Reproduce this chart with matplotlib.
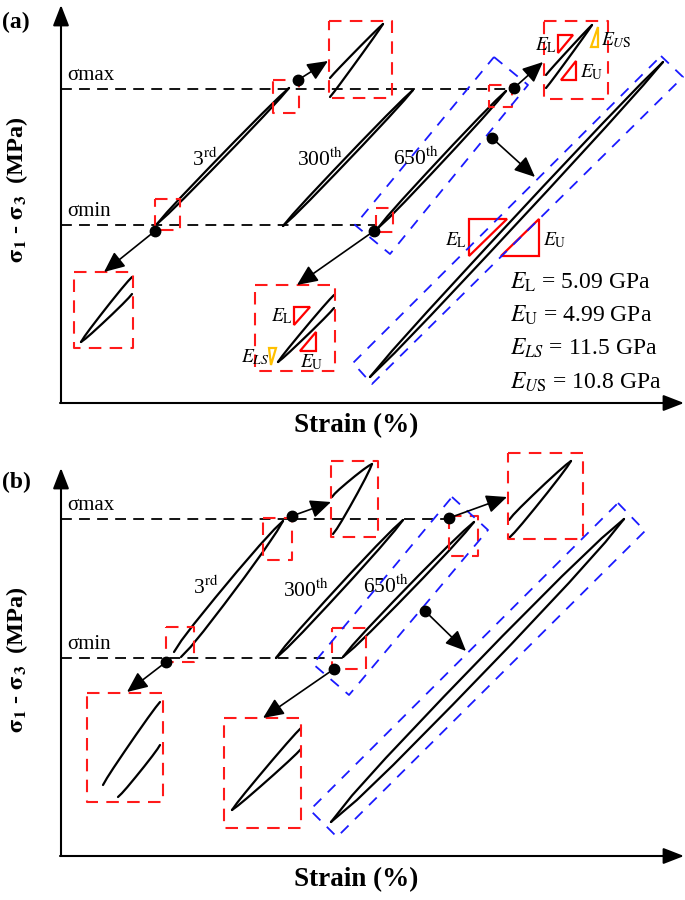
import matplotlib
matplotlib.use("Agg")
import matplotlib.pyplot as plt
import numpy as np
from matplotlib.patches import Polygon

plt.rcParams['font.family'] = ['Liberation Serif', 'DejaVu Serif']
plt.rcParams['mathtext.fontset'] = 'stix'

# everything is given in picture pixels (x right, y down)
# loops: upper branch start, lower branch start, upper end, lower end, bow
loops_a = [
    (157, 224, 157, 224, 289, 88, 289, 88, 1.8),     # 3rd
    (283, 226, 283, 226, 413, 90, 413, 90, 1.8),     # 300th
    (378, 228, 378, 228, 506, 91, 506, 91, 2.0),     # 650th
    (370, 377, 370, 377, 663, 62, 663, 62, 3.0),     # 650th enlarged
    (330, 78, 330, 97, 383, 24, 383, 24, 0.6),
    (546, 75, 546, 88, 592, 25, 592, 25, 0.5),
    (81, 342, 81, 342, 132, 277, 132, 294, 1.2),
    (278, 362, 278, 362, 334, 295, 334, 308, 1.0),
]
loops_b = [
    (174, 652, 181, 657, 283, 521, 283, 521, 3.0),
    (276, 658, 276, 658, 403, 520, 403, 520, 2.5),
    (343, 657, 343, 657, 474, 522, 474, 522, 2.5),
    (331, 822, 331, 822, 624, 519, 624, 519, 6.0),
    (332, 497, 333, 534, 372, 464, 372, 464, 1.5),
    (509, 520, 509, 538, 571, 461, 571, 461, 1.5),
    (103, 785, 118, 797, 160, 702, 160, 745, 1.2),
    (232, 810, 232, 810, 301, 728, 301, 749, 1.2),
]
# generic bow profile along a branch
branch_t = [0, 0.08, 0.2, 0.4, 0.6, 0.8, 0.93, 1.0]
branch_bow = [0, 0.55, 0.85, 1.0, 1.0, 0.8, 0.45, 0]

red_boxes = [
    (273, 80, 299, 113), (329, 21, 392, 98), (155, 199, 180, 230), (74, 272, 133, 348),
    (489, 85, 512, 107), (376, 208, 393, 232), (544, 21, 608, 99), (255, 285, 335, 371),
    (263, 518, 292, 560), (331, 461, 378, 537), (166, 627, 194, 662), (87, 693, 163, 802),
    (449, 516, 478, 556), (332, 628, 366, 669), (508, 453, 583, 539), (224, 718, 301, 828),
]
blue_rects = [
    [(494, 57), (528, 85), (390, 254), (355, 225)],
    [(661, 56), (683, 77), (372, 384), (353, 363)],
    [(452, 497), (488, 530), (349, 695), (313, 664)],
    [(618, 503), (645, 531), (337, 837), (310, 810)],
]
# dot position -> arrow tip
pointers = [
    (298, 80, 328, 61), (155, 231, 104, 272), (374, 231, 297, 285),
    (514, 88, 543, 62), (492, 138, 535, 177),
    (292, 516, 331, 502), (166, 662, 127, 692), (334, 669, 263, 718),
    (449, 518, 507, 497), (425, 611, 466, 651),
]
# sigma lines: y, x end, label
stress_lines = [(89, 515, 'σmax'), (225, 376, 'σmin'), (519, 450, 'σmax'), (658, 343, 'σmin')]

red_tri = [
    [(558, 35), (573, 35), (558, 53)], [(561, 80), (576, 80), (576, 61)],
    [(294, 307), (310, 307), (294, 325)], [(300, 351), (316, 351), (316, 332)],
    [(469, 219), (507, 219), (469, 256)], [(501, 256), (539, 256), (539, 219)],
]
orange_tri = [[(591, 47), (598, 47), (598, 27)], [(269, 348), (276, 348), (271, 365)]]

cycle_labels = [(192, 166, r'3$^{\rm rd}$'), (297, 166, r'300$^{\rm th}$'), (393, 165, r'650$^{\rm th}$'),
                (193, 594, r'3$^{\rm rd}$'), (283, 597, r'300$^{\rm th}$'), (363, 593, r'650$^{\rm th}$')]
mod_labels = [
    (557, 45, 'right', r'$E_{\rm L}$'), (601, 40, 'left', r'$E_{U\rm S}$'), (580, 72, 'left', r'$E_{\rm U}$'),
    (293, 316, 'right', r'$E_{\rm L}$'), (269, 357, 'right', r'$E_{LS}$'), (300, 362, 'left', r'$E_{\rm U}$'),
    (467, 240, 'right', r'$E_{\rm L}$'), (543, 240, 'left', r'$E_{\rm U}$'),
]
moduli = [r'$E_{\rm L}$ = 5.09 GPa', r'$E_{\rm U}$ = 4.99 GPa', r'$E_{LS}$ = 11.5 GPa', r'$E_{U\rm S}$ = 10.8 GPa']
moduli_y = [282, 315, 348, 382]

panels = [('(a)', 22, 403, 5, 190, 426), ('(b)', 482, 856, 468, 660, 880)]

fig = plt.figure(figsize=(6.85, 9), dpi=100)
ax = fig.add_axes([0, 0, 1, 1])
ax.set_xlim(0, 685)
ax.set_ylim(900, 0)
ax.axis('off')


def branch(x0, y0, x1, y1, w, sign):
    t = np.array(branch_t)
    b = np.array(branch_bow)
    dx, dy = x1 - x0, y1 - y0
    L = np.hypot(dx, dy)
    nx, ny = dy / L, -dx / L
    return x0 + t * dx + sign * nx * w * b, y0 + t * dy + sign * ny * w * b


for lp in loops_a + loops_b:
    xu, yu = branch(lp[0], lp[1], lp[4], lp[5], lp[8], 1)
    xl, yl = branch(lp[2], lp[3], lp[6], lp[7], lp[8], -1)
    ax.plot(xu, yu, color='k', lw=1.6, solid_capstyle='round')
    ax.plot(xl, yl, color='k', lw=1.6, solid_capstyle='round')

for label, ly, y_axis, y_top, ylab_y, xlab_y in panels:
    ax.annotate('', xy=(61, y_top), xytext=(61, y_axis),
                arrowprops=dict(arrowstyle='-|>,head_length=0.9,head_width=0.35', color='k', lw=1.5,
                                shrinkA=0, shrinkB=0, mutation_scale=14))
    ax.annotate('', xy=(684, y_axis), xytext=(60, y_axis),
                arrowprops=dict(arrowstyle='-|>,head_length=0.9,head_width=0.35', color='k', lw=1.5,
                                shrinkA=0, shrinkB=0, mutation_scale=14))
    ax.text(2, ly, label, fontsize=17, fontweight='bold', ha='left', va='center')
    ax.text(17, ylab_y, r'$\mathbf{\sigma_1}$ - $\mathbf{\sigma_3}$  (MPa)', fontsize=17.5, fontweight='bold',
            rotation=90, ha='center', va='center')
    ax.text(356, xlab_y, 'Strain (%)', fontsize=19.5, fontweight='bold', ha='center', va='center')

for y, xe, lab in stress_lines:
    ax.plot([61, xe], [y, y], color='k', lw=1.3, dashes=(6, 4))
    ax.text(67, y - 4, lab, fontsize=15, ha='left', va='bottom')

for x0, y0, x1, y1 in red_boxes:
    ax.plot([x0, x1, x1, x0, x0], [y0, y0, y1, y1, y0], color='#ff1a1a', lw=1.5, dashes=(6, 4))

for pts in blue_rects:
    xs = [p[0] for p in pts] + [pts[0][0]]
    ys = [p[1] for p in pts] + [pts[0][1]]
    ax.plot(xs, ys, color='#1a1aff', lw=1.3, dashes=(6, 5))

for pts in red_tri:
    ax.add_patch(Polygon(pts, closed=True, fill=False, edgecolor='#ff0000', lw=1.6))
for pts in orange_tri:
    ax.add_patch(Polygon(pts, closed=True, fill=False, edgecolor='#ffc000', lw=1.6))

for dx_, dy_, tx, ty in pointers:
    ax.annotate('', xy=(tx, ty), xytext=(dx_, dy_),
                arrowprops=dict(arrowstyle='-|>,head_length=0.9,head_width=0.4', color='k', lw=1.2,
                                shrinkA=0, shrinkB=0, mutation_scale=14))
    ax.plot(dx_, dy_, 'o', color='k', ms=7.5)

for x, y, s in cycle_labels:
    ax.text(x, y, s, fontsize=15.5, ha='left', va='baseline')

for x, y, ha, s in mod_labels:
    ax.text(x, y, s, fontsize=14, ha=ha, va='center')

for y, s in zip(moduli_y, moduli):
    ax.text(510, y, s, fontsize=17, ha='left', va='center')

fig.savefig('out.png', dpi=100)
